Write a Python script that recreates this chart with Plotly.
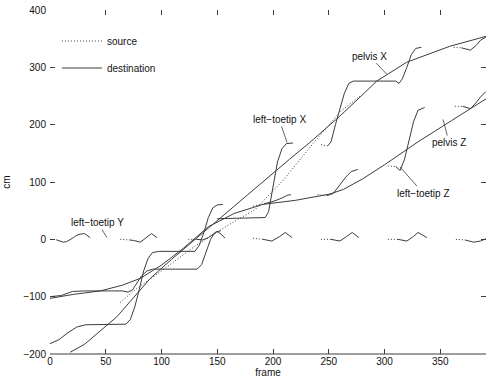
import plotly.graph_objects as go

# ---------------- data (frame, cm) ----------------
# pelvis X, destination
pelvis_x_frames = [18, 31, 60, 90, 109, 135, 160, 190, 215, 233, 260, 278, 293, 320, 359, 391]
pelvis_x_cm = [-197, -183, -135, -68, -35, 8, 50, 100, 140, 169, 215, 248, 276, 309, 337, 354]

# pelvis X, source
pelvis_x_src_frames = [63, 75, 100, 130, 160, 184, 210, 235, 260, 278]
pelvis_x_src_cm = [-110, -90, -55, -12, 25, 52, 105, 165, 222, 250]

# pelvis Z, destination
pelvis_z_frames = [0, 21, 45, 65, 81, 100, 120, 142, 165, 191, 220, 251, 263, 280, 300, 330, 360, 391]
pelvis_z_cm = [-103, -96, -90, -80, -68, -45, -15, 22, 45, 61, 68, 79, 87, 105, 130, 170, 207, 245]

# left-toetip X, destination (None = gap between clips)
toe_x_frames = [0, 8, 16, 24, 32, 50, 68, 72, 76, 80, 84, 88, 92, 98, 130, 134, 138, 142, 146, 150, 155, None,
                150, 170, 193, 196, 200, 204, 208, 212, 218, None,
                249, 252, 256, 260, 264, 268, 272, 290, 310, 313, 316, 320, 324, 328, 333, None,
                369, 377, 382, 386, 391]
toe_x_cm = [-182, -175, -163, -153, -149, -148, -148, -140, -118, -88, -55, -33, -23, -21, -21, -10, 12, 38, 55, 60, 61, None,
            36, 37, 38, 48, 95, 135, 158, 167, 168, None,
            163, 170, 200, 228, 255, 272, 276, 276, 276, 272, 280, 300, 322, 333, 335, None,
            334, 330, 338, 347, 353]

# left-toetip X, source lead-ins
toe_x_src_frames = [243, 249, None, 362, 369]
toe_x_src_cm = [165, 163, None, 335, 334]

# left-toetip Z, destination
toe_z_frames = [0, 10, 20, 30, 65, 70, 74, 78, 82, 87, 92, 132, 136, 140, 144, 148, 153, None,
                192, 200, 208, 213, 216, None,
                248, 254, 260, 265, 270, 276, None,
                310, 314, 318, 322, 326, 330, 336, None,
                370, 377, 382, 386, 391]
toe_z_cm = [-100, -98, -91, -90, -90, -92, -88, -76, -64, -55, -52, -52, -44, -22, 0, 12, 15, None,
            62, 66, 72, 77, 78, None,
            76, 80, 95, 108, 118, 122, None,
            127, 120, 140, 175, 205, 225, 230, None,
            232, 228, 238, 248, 258]

# left-toetip Z, source lead-ins
toe_z_src_frames = [182, 192, None, 240, 248, None, 303, 310, None, 363, 370]
toe_z_src_cm = [58, 62, None, 78, 76, None, 128, 127, None, 232, 232]

# left-toetip Y, destination
toe_y_frames = [6, 9, 12, 15, 18, 21, 24, 27, 31, 36, None,
                71, 75, 81, 87, 91, 96, None,
                131, 137, 142, 147, 150, 154, 157, None,
                191, 199, 206, 211, 217, None,
                252, 260, 266, 271, 277, None,
                312, 320, 326, 330, 338, None,
                372, 380, 386, 391]
toe_y_cm = [-1, -3, -5, -4, -1, 3, 7, 9, 10, 3, None,
            -1, -2, -5, 5, 10, 3, None,
            0, -1, 3, 10, 14, 8, 2, None,
            0, -3, 5, 12, 3, None,
            0, -3, 5, 12, 3, None,
            0, -3, 5, 12, 3, None,
            -1, -5, -3, 1]

# left-toetip Y, source lead-ins
toe_y_src_frames = [0, 6, None, 63, 71, None, 124, 131, None, 182, 191, None, 243, 252, None, 303, 312, None, 364, 372]
toe_y_src_cm = [0, -1, None, 0, -1, None, 0, 0, None, 2, 0, None, 0, 0, None, 0, 0, None, 0, -1]

x_ticks = [0, 50, 100, 150, 200, 250, 300, 350]
y_ticks = [-200, -100, 0, 100, 200, 300, 400]

# curve labels: text, pointed frame, pointed cm, text offset (px)
label_texts = ["pelvis X", "left\u2212toetip X", "pelvis Z", "left\u2212toetip Z", "left\u2212toetip Y"]
label_frames = [302, 212.6, 352.5, 314, 51]
label_cm = [288, 169, 209, 126, 3]
label_dx = [-17, -8, 6, 23, -9]
label_dy = [-18, -23, 23, 26, -15]

# ---------------- figure ----------------
LC = "#3c3c3c"
FONT = "Liberation Sans, Arial, Helvetica, sans-serif"
TXT = "#111"

fig = go.Figure()

def add_line(xs, ys, dash, name=None, legend=False, group=None):
    fig.add_trace(go.Scatter(
        x=xs, y=ys, mode="lines", connectgaps=False,
        line=dict(color=LC, width=1, dash=dash),
        name=name, showlegend=legend, legendgroup=group,
        hoverinfo="skip"))

DOT = "1px,2px"
add_line(toe_y_src_frames, toe_y_src_cm, DOT, "source", True, "src")
add_line(pelvis_x_src_frames, pelvis_x_src_cm, DOT, group="src")
add_line(toe_x_src_frames, toe_x_src_cm, DOT, group="src")
add_line(toe_z_src_frames, toe_z_src_cm, DOT, group="src")

add_line(pelvis_x_frames, pelvis_x_cm, "solid", "destination", True, "dst")
add_line(pelvis_z_frames, pelvis_z_cm, "solid", group="dst")
add_line(toe_x_frames, toe_x_cm, "solid", group="dst")
add_line(toe_z_frames, toe_z_cm, "solid", group="dst")
add_line(toe_y_frames, toe_y_cm, "solid", group="dst")

for t, fx, fy, dx, dy in zip(label_texts, label_frames, label_cm, label_dx, label_dy):
    fig.add_annotation(x=fx, y=fy, text=t, showarrow=True, arrowhead=0,
                       arrowwidth=0.8, arrowcolor=LC, ax=dx, ay=dy,
                       standoff=0, startstandoff=0,
                       font=dict(family=FONT, size=10, color=TXT))

axis_common = dict(
    showgrid=False, zeroline=False, showline=False,
    ticks="inside", ticklen=5, tickwidth=1, tickcolor=LC,
    mirror="ticks", automargin=False, ticklabeloverflow="allow",
    tickfont=dict(family=FONT, size=10, color=TXT),
)

fig.update_xaxes(range=[0, 391], tickvals=x_ticks,
                 title=dict(text="frame", font=dict(family=FONT, size=10, color=TXT), standoff=0),
                 **axis_common)
fig.update_yaxes(range=[-200, 400], tickvals=y_ticks, ticklabelstandoff=3,
                 title=dict(text="cm", font=dict(family=FONT, size=10, color=TXT), standoff=10),
                 **axis_common)

# bottom axis line
fig.add_shape(type="line", xref="paper", yref="paper", x0=0, x1=1, y0=0, y1=0,
              line=dict(color=LC, width=1))

fig.update_layout(
    width=486, height=379,
    margin=dict(l=50, r=0, t=10, b=25),
    paper_bgcolor="white", plot_bgcolor="white",
    showlegend=True,
    legend=dict(x=0.016, y=0.952, xanchor="left", yanchor="top",
                bgcolor="rgba(0,0,0,0)", borderwidth=0,
                traceorder="grouped", tracegroupgap=8, itemwidth=40,
                font=dict(family=FONT, size=10, color=TXT)),
)

# remove the page body's default margin so the figure sits at the window origin
fig.write_html("out.html",
               config={"displayModeBar": False, "staticPlot": True},
               post_script="document.body.style.margin='0';document.body.style.overflow='hidden';")
